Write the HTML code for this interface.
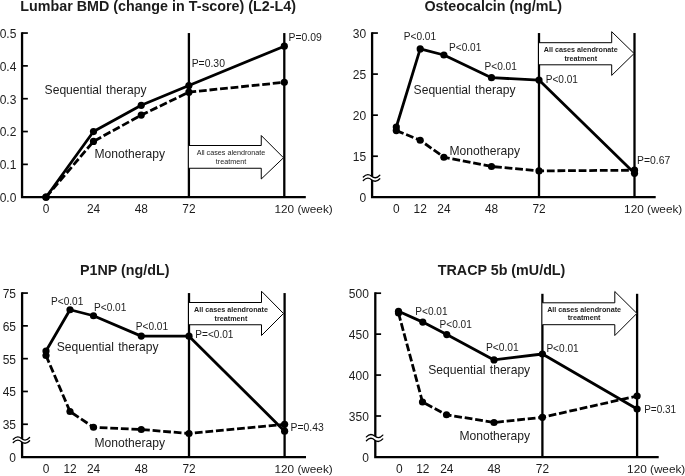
<!DOCTYPE html>
<html><head><meta charset="utf-8"><title>Bone markers</title>
<style>html,body{margin:0;padding:0;background:#fff;width:685px;height:476px;overflow:hidden}svg{display:block;filter:grayscale(1) blur(0.35px)}</style>
</head><body>
<svg width="685" height="476" viewBox="0 0 685 476" font-family='"Liberation Sans", sans-serif'>
<rect width="685" height="476" fill="#fff"/>
<path d="M22.06,32.21 L22.06,197.20 L305.80,197.20" fill="none" stroke="#000" stroke-width="2.3" stroke-linejoin="miter"/>
<line x1="22.06" y1="33.05" x2="27.86" y2="33.05" stroke="#000" stroke-width="1.7" stroke-linecap="butt"/>
<text x="16.30" y="37.90" font-size="12.0" font-weight="normal" text-anchor="end" fill="#1c1c1c" >0.5</text>
<line x1="22.06" y1="65.88" x2="27.86" y2="65.88" stroke="#000" stroke-width="1.7" stroke-linecap="butt"/>
<text x="16.30" y="70.73" font-size="12.0" font-weight="normal" text-anchor="end" fill="#1c1c1c" >0.4</text>
<line x1="22.06" y1="98.71" x2="27.86" y2="98.71" stroke="#000" stroke-width="1.7" stroke-linecap="butt"/>
<text x="16.30" y="103.56" font-size="12.0" font-weight="normal" text-anchor="end" fill="#1c1c1c" >0.3</text>
<line x1="22.06" y1="131.54" x2="27.86" y2="131.54" stroke="#000" stroke-width="1.7" stroke-linecap="butt"/>
<text x="16.30" y="136.39" font-size="12.0" font-weight="normal" text-anchor="end" fill="#1c1c1c" >0.2</text>
<line x1="22.06" y1="164.37" x2="27.86" y2="164.37" stroke="#000" stroke-width="1.7" stroke-linecap="butt"/>
<text x="16.30" y="169.22" font-size="12.0" font-weight="normal" text-anchor="end" fill="#1c1c1c" >0.1</text>
<text x="16.30" y="202.05" font-size="12.0" font-weight="normal" text-anchor="end" fill="#1c1c1c" >0.0</text>
<line x1="188.90" y1="33.06" x2="188.90" y2="197.20" stroke="#000" stroke-width="2.3" stroke-linecap="butt"/>
<line x1="284.30" y1="33.06" x2="284.30" y2="197.20" stroke="#000" stroke-width="2.3" stroke-linecap="butt"/>
<text x="46.00" y="212.70" font-size="11.9" font-weight="normal" text-anchor="middle" fill="#1c1c1c" >0</text>
<text x="93.50" y="212.70" font-size="11.9" font-weight="normal" text-anchor="middle" fill="#1c1c1c" >24</text>
<text x="141.25" y="212.70" font-size="11.9" font-weight="normal" text-anchor="middle" fill="#1c1c1c" >48</text>
<text x="188.90" y="212.70" font-size="11.9" font-weight="normal" text-anchor="middle" fill="#1c1c1c" >72</text>
<text x="274.55" y="212.70" font-size="11.75" font-weight="normal" text-anchor="start" fill="#1c1c1c" >120 (week)</text>
<path d="M188.9,145.5 L261.25,145.5 L261.25,135.5 L283.5,157.75 L261.25,179 L261.25,168.25 L188.9,168.25" fill="#fff" stroke="#000" stroke-width="1" stroke-linejoin="miter"/>
<text x="231.00" y="155.00" font-size="7.2" font-weight="normal" text-anchor="middle" fill="#1c1c1c" >All cases alendronate</text>
<text x="231.00" y="164.00" font-size="7.2" font-weight="normal" text-anchor="middle" fill="#1c1c1c" >treatment</text>
<polyline points="46.00,197.20 93.50,141.39 141.25,115.12 188.90,92.14 284.30,82.29" fill="none" stroke="#000" stroke-width="2.8" stroke-linejoin="round" stroke-dasharray="7.8 2.8" stroke-dashoffset="0"/>
<polyline points="46.00,197.20 93.50,131.54 141.25,105.28 188.90,85.58 284.30,46.18" fill="none" stroke="#000" stroke-width="2.8" stroke-linejoin="round"/>
<circle cx="46.00" cy="197.20" r="3.6" fill="#000"/>
<circle cx="93.50" cy="141.39" r="3.6" fill="#000"/>
<circle cx="141.25" cy="115.12" r="3.6" fill="#000"/>
<circle cx="188.90" cy="92.14" r="3.6" fill="#000"/>
<circle cx="284.30" cy="82.29" r="3.6" fill="#000"/>
<circle cx="46.00" cy="197.20" r="3.6" fill="#000"/>
<circle cx="93.50" cy="131.54" r="3.6" fill="#000"/>
<circle cx="141.25" cy="105.28" r="3.6" fill="#000"/>
<circle cx="188.90" cy="85.58" r="3.6" fill="#000"/>
<circle cx="284.30" cy="46.18" r="3.6" fill="#000"/>
<text x="44.60" y="94.40" font-size="12.1" font-weight="normal" text-anchor="start" fill="#1c1c1c" word-spacing="1">Sequential therapy</text>
<text x="94.50" y="157.75" font-size="12.1" font-weight="normal" text-anchor="start" fill="#1c1c1c" >Monotherapy</text>
<text x="191.70" y="67.10" font-size="10.4" font-weight="normal" text-anchor="start" fill="#1c1c1c" >P=0.30</text>
<text x="288.50" y="41.15" font-size="10.4" font-weight="normal" text-anchor="start" fill="#1c1c1c" >P=0.09</text>
<text x="20.30" y="10.95" font-size="14.3" font-weight="bold" text-anchor="start" fill="#1c1c1c" >Lumbar BMD (change in T-score) (L2-L4)</text>
<path d="M372.10,32.20 L372.10,197.20 L655.70,197.20" fill="none" stroke="#000" stroke-width="2.3" stroke-linejoin="miter"/>
<line x1="372.10" y1="33.05" x2="377.90" y2="33.05" stroke="#000" stroke-width="1.7" stroke-linecap="butt"/>
<text x="366.20" y="37.90" font-size="12.0" font-weight="normal" text-anchor="end" fill="#1c1c1c" >30</text>
<line x1="372.10" y1="74.10" x2="377.90" y2="74.10" stroke="#000" stroke-width="1.7" stroke-linecap="butt"/>
<text x="366.20" y="78.95" font-size="12.0" font-weight="normal" text-anchor="end" fill="#1c1c1c" >25</text>
<line x1="372.10" y1="115.16" x2="377.90" y2="115.16" stroke="#000" stroke-width="1.7" stroke-linecap="butt"/>
<text x="366.20" y="120.01" font-size="12.0" font-weight="normal" text-anchor="end" fill="#1c1c1c" >20</text>
<line x1="372.10" y1="156.22" x2="377.90" y2="156.22" stroke="#000" stroke-width="1.7" stroke-linecap="butt"/>
<text x="366.20" y="161.06" font-size="12.0" font-weight="normal" text-anchor="end" fill="#1c1c1c" >15</text>
<text x="366.20" y="202.05" font-size="12.0" font-weight="normal" text-anchor="end" fill="#1c1c1c" >0</text>
<path d="M363.30,177.00 Q367.43,172.60 371.55,176.20 Q375.68,179.80 379.80,175.20 L379.80,178.70 Q375.68,183.30 371.55,179.70 Q367.43,176.10 363.30,180.50 Z" fill="#fff"/>
<path d="M363.30,177.00 Q367.43,172.60 371.55,176.20 T379.80,175.20" fill="none" stroke="#000" stroke-width="1.3" stroke-linecap="round"/>
<path d="M363.30,180.50 Q367.43,176.10 371.55,179.70 T379.80,178.70" fill="none" stroke="#000" stroke-width="1.3" stroke-linecap="round"/>
<line x1="539.00" y1="33.05" x2="539.00" y2="197.20" stroke="#000" stroke-width="2.3" stroke-linecap="butt"/>
<line x1="634.50" y1="33.05" x2="634.50" y2="197.20" stroke="#000" stroke-width="2.3" stroke-linecap="butt"/>
<text x="396.30" y="212.70" font-size="11.9" font-weight="normal" text-anchor="middle" fill="#1c1c1c" >0</text>
<text x="420.20" y="212.70" font-size="11.9" font-weight="normal" text-anchor="middle" fill="#1c1c1c" >12</text>
<text x="443.90" y="212.70" font-size="11.9" font-weight="normal" text-anchor="middle" fill="#1c1c1c" >24</text>
<text x="491.50" y="212.70" font-size="11.9" font-weight="normal" text-anchor="middle" fill="#1c1c1c" >48</text>
<text x="539.00" y="212.70" font-size="11.9" font-weight="normal" text-anchor="middle" fill="#1c1c1c" >72</text>
<text x="624.10" y="212.70" font-size="11.75" font-weight="normal" text-anchor="start" fill="#1c1c1c" >120 (week)</text>
<path d="M539,42.7 L611.7,42.7 L611.7,31.7 L634.1,53.5 L611.7,75.4 L611.7,64.8 L539,64.8" fill="#fff" stroke="#000" stroke-width="1" stroke-linejoin="miter"/>
<text x="580.80" y="52.00" font-size="7.2" font-weight="bold" text-anchor="middle" fill="#1c1c1c" >All cases alendronate</text>
<text x="580.80" y="60.80" font-size="7.2" font-weight="bold" text-anchor="middle" fill="#1c1c1c" >treatment</text>
<polyline points="396.30,130.60 420.20,140.25 443.90,157.25 491.50,166.50 539.00,170.90 634.50,170.20" fill="none" stroke="#000" stroke-width="2.8" stroke-linejoin="round" stroke-dasharray="7.8 2.8" stroke-dashoffset="0"/>
<polyline points="396.30,127.00 420.20,48.90 443.90,55.00 491.50,77.70 539.00,80.10 634.50,173.30" fill="none" stroke="#000" stroke-width="2.8" stroke-linejoin="round"/>
<circle cx="396.30" cy="130.60" r="3.6" fill="#000"/>
<circle cx="420.20" cy="140.25" r="3.6" fill="#000"/>
<circle cx="443.90" cy="157.25" r="3.6" fill="#000"/>
<circle cx="491.50" cy="166.50" r="3.6" fill="#000"/>
<circle cx="539.00" cy="170.90" r="3.6" fill="#000"/>
<circle cx="634.50" cy="170.20" r="3.6" fill="#000"/>
<circle cx="396.30" cy="127.00" r="3.6" fill="#000"/>
<circle cx="420.20" cy="48.90" r="3.6" fill="#000"/>
<circle cx="443.90" cy="55.00" r="3.6" fill="#000"/>
<circle cx="491.50" cy="77.70" r="3.6" fill="#000"/>
<circle cx="539.00" cy="80.10" r="3.6" fill="#000"/>
<circle cx="634.50" cy="173.30" r="3.6" fill="#000"/>
<text x="403.80" y="40.40" font-size="10.1" font-weight="normal" text-anchor="start" fill="#1c1c1c" >P&lt;0.01</text>
<text x="449.00" y="51.10" font-size="10.1" font-weight="normal" text-anchor="start" fill="#1c1c1c" >P&lt;0.01</text>
<text x="484.50" y="70.35" font-size="10.1" font-weight="normal" text-anchor="start" fill="#1c1c1c" >P&lt;0.01</text>
<text x="545.70" y="83.25" font-size="10.1" font-weight="normal" text-anchor="start" fill="#1c1c1c" >P&lt;0.01</text>
<text x="637.00" y="164.10" font-size="10.4" font-weight="normal" text-anchor="start" fill="#1c1c1c" >P=0.67</text>
<text x="413.60" y="93.50" font-size="12.1" font-weight="normal" text-anchor="start" fill="#1c1c1c" word-spacing="1">Sequential therapy</text>
<text x="449.50" y="155.25" font-size="12.1" font-weight="normal" text-anchor="start" fill="#1c1c1c" >Monotherapy</text>
<text x="424.50" y="10.95" font-size="14.3" font-weight="bold" text-anchor="start" fill="#1c1c1c" >Osteocalcin (ng/mL)</text>
<path d="M22.10,292.22 L22.10,457.10 L306.00,457.10" fill="none" stroke="#000" stroke-width="2.3" stroke-linejoin="miter"/>
<line x1="22.10" y1="293.07" x2="27.90" y2="293.07" stroke="#000" stroke-width="1.7" stroke-linecap="butt"/>
<text x="16.00" y="297.92" font-size="12.0" font-weight="normal" text-anchor="end" fill="#1c1c1c" >75</text>
<line x1="22.10" y1="325.87" x2="27.90" y2="325.87" stroke="#000" stroke-width="1.7" stroke-linecap="butt"/>
<text x="16.00" y="330.72" font-size="12.0" font-weight="normal" text-anchor="end" fill="#1c1c1c" >65</text>
<line x1="22.10" y1="358.66" x2="27.90" y2="358.66" stroke="#000" stroke-width="1.7" stroke-linecap="butt"/>
<text x="16.00" y="363.51" font-size="12.0" font-weight="normal" text-anchor="end" fill="#1c1c1c" >55</text>
<line x1="22.10" y1="391.46" x2="27.90" y2="391.46" stroke="#000" stroke-width="1.7" stroke-linecap="butt"/>
<text x="16.00" y="396.31" font-size="12.0" font-weight="normal" text-anchor="end" fill="#1c1c1c" >45</text>
<line x1="22.10" y1="424.26" x2="27.90" y2="424.26" stroke="#000" stroke-width="1.7" stroke-linecap="butt"/>
<text x="16.00" y="429.11" font-size="12.0" font-weight="normal" text-anchor="end" fill="#1c1c1c" >35</text>
<text x="16.00" y="461.95" font-size="12.0" font-weight="normal" text-anchor="end" fill="#1c1c1c" >0</text>
<path d="M13.25,439.30 Q17.34,434.90 21.43,438.50 Q25.51,442.10 29.60,437.50 L29.60,440.70 Q25.51,445.30 21.43,441.70 Q17.34,438.10 13.25,442.50 Z" fill="#fff"/>
<path d="M13.25,439.30 Q17.34,434.90 21.43,438.50 T29.60,437.50" fill="none" stroke="#000" stroke-width="1.3" stroke-linecap="round"/>
<path d="M13.25,442.50 Q17.34,438.10 21.43,441.70 T29.60,440.70" fill="none" stroke="#000" stroke-width="1.3" stroke-linecap="round"/>
<line x1="189.00" y1="293.07" x2="189.00" y2="457.10" stroke="#000" stroke-width="2.3" stroke-linecap="butt"/>
<line x1="284.60" y1="293.07" x2="284.60" y2="457.10" stroke="#000" stroke-width="2.3" stroke-linecap="butt"/>
<text x="46.00" y="472.60" font-size="11.9" font-weight="normal" text-anchor="middle" fill="#1c1c1c" >0</text>
<text x="70.00" y="472.60" font-size="11.9" font-weight="normal" text-anchor="middle" fill="#1c1c1c" >12</text>
<text x="93.50" y="472.60" font-size="11.9" font-weight="normal" text-anchor="middle" fill="#1c1c1c" >24</text>
<text x="141.25" y="472.60" font-size="11.9" font-weight="normal" text-anchor="middle" fill="#1c1c1c" >48</text>
<text x="189.00" y="472.60" font-size="11.9" font-weight="normal" text-anchor="middle" fill="#1c1c1c" >72</text>
<text x="274.55" y="472.60" font-size="11.75" font-weight="normal" text-anchor="start" fill="#1c1c1c" >120 (week)</text>
<path d="M189.0,302.5 L261.5,302.5 L261.5,291.25 L283.5,313.5 L261.5,335.5 L261.5,324.75 L189.0,324.75" fill="#fff" stroke="#000" stroke-width="1" stroke-linejoin="miter"/>
<text x="231.00" y="312.25" font-size="7.2" font-weight="bold" text-anchor="middle" fill="#1c1c1c" >All cases alendronate</text>
<text x="231.00" y="320.50" font-size="7.2" font-weight="bold" text-anchor="middle" fill="#1c1c1c" >treatment</text>
<polyline points="46.00,355.50 70.00,411.50 93.50,427.25 141.25,429.50 189.00,433.50 284.60,424.30" fill="none" stroke="#000" stroke-width="2.8" stroke-linejoin="round" stroke-dasharray="7.8 2.8" stroke-dashoffset="0"/>
<polyline points="46.00,351.00 70.00,309.75 93.50,315.75 141.25,336.10 189.00,336.20 284.60,431.20" fill="none" stroke="#000" stroke-width="2.8" stroke-linejoin="round"/>
<circle cx="46.00" cy="355.50" r="3.6" fill="#000"/>
<circle cx="70.00" cy="411.50" r="3.6" fill="#000"/>
<circle cx="93.50" cy="427.25" r="3.6" fill="#000"/>
<circle cx="141.25" cy="429.50" r="3.6" fill="#000"/>
<circle cx="189.00" cy="433.50" r="3.6" fill="#000"/>
<circle cx="284.60" cy="424.30" r="3.6" fill="#000"/>
<circle cx="46.00" cy="351.00" r="3.6" fill="#000"/>
<circle cx="70.00" cy="309.75" r="3.6" fill="#000"/>
<circle cx="93.50" cy="315.75" r="3.6" fill="#000"/>
<circle cx="141.25" cy="336.10" r="3.6" fill="#000"/>
<circle cx="189.00" cy="336.20" r="3.6" fill="#000"/>
<circle cx="284.60" cy="431.20" r="3.6" fill="#000"/>
<text x="51.00" y="304.60" font-size="10.1" font-weight="normal" text-anchor="start" fill="#1c1c1c" >P&lt;0.01</text>
<text x="94.00" y="310.85" font-size="10.1" font-weight="normal" text-anchor="start" fill="#1c1c1c" >P&lt;0.01</text>
<text x="135.75" y="329.60" font-size="10.1" font-weight="normal" text-anchor="start" fill="#1c1c1c" >P&lt;0.01</text>
<text x="195.30" y="337.70" font-size="10.1" font-weight="normal" text-anchor="start" fill="#1c1c1c" >P=&lt;0.01</text>
<text x="290.60" y="430.80" font-size="10.4" font-weight="normal" text-anchor="start" fill="#1c1c1c" >P=0.43</text>
<text x="56.70" y="350.50" font-size="12.1" font-weight="normal" text-anchor="start" fill="#1c1c1c" word-spacing="1">Sequential therapy</text>
<text x="94.50" y="446.50" font-size="12.1" font-weight="normal" text-anchor="start" fill="#1c1c1c" >Monotherapy</text>
<text x="80.00" y="274.75" font-size="14.3" font-weight="bold" text-anchor="start" fill="#1c1c1c" >P1NP (ng/dL)</text>
<path d="M375.30,292.35 L375.30,457.10 L658.70,457.10" fill="none" stroke="#000" stroke-width="2.3" stroke-linejoin="miter"/>
<line x1="375.30" y1="293.20" x2="381.10" y2="293.20" stroke="#000" stroke-width="1.7" stroke-linecap="butt"/>
<text x="368.90" y="298.05" font-size="12.0" font-weight="normal" text-anchor="end" fill="#1c1c1c" >500</text>
<line x1="375.30" y1="334.13" x2="381.10" y2="334.13" stroke="#000" stroke-width="1.7" stroke-linecap="butt"/>
<text x="368.90" y="338.99" font-size="12.0" font-weight="normal" text-anchor="end" fill="#1c1c1c" >450</text>
<line x1="375.30" y1="375.07" x2="381.10" y2="375.07" stroke="#000" stroke-width="1.7" stroke-linecap="butt"/>
<text x="368.90" y="379.92" font-size="12.0" font-weight="normal" text-anchor="end" fill="#1c1c1c" >400</text>
<line x1="375.30" y1="416.00" x2="381.10" y2="416.00" stroke="#000" stroke-width="1.7" stroke-linecap="butt"/>
<text x="368.90" y="420.86" font-size="12.0" font-weight="normal" text-anchor="end" fill="#1c1c1c" >350</text>
<text x="368.90" y="461.95" font-size="12.0" font-weight="normal" text-anchor="end" fill="#1c1c1c" >0</text>
<path d="M366.40,436.90 Q370.50,432.50 374.60,436.10 Q378.70,439.70 382.80,435.10 L382.80,438.90 Q378.70,443.50 374.60,439.90 Q370.50,436.30 366.40,440.70 Z" fill="#fff"/>
<path d="M366.40,436.90 Q370.50,432.50 374.60,436.10 T382.80,435.10" fill="none" stroke="#000" stroke-width="1.3" stroke-linecap="round"/>
<path d="M366.40,440.70 Q370.50,436.30 374.60,439.90 T382.80,438.90" fill="none" stroke="#000" stroke-width="1.3" stroke-linecap="round"/>
<line x1="542.40" y1="293.80" x2="542.40" y2="457.10" stroke="#000" stroke-width="2.3" stroke-linecap="butt"/>
<line x1="637.10" y1="293.80" x2="637.10" y2="457.10" stroke="#000" stroke-width="2.3" stroke-linecap="butt"/>
<text x="399.25" y="472.60" font-size="11.9" font-weight="normal" text-anchor="middle" fill="#1c1c1c" >0</text>
<text x="422.75" y="472.60" font-size="11.9" font-weight="normal" text-anchor="middle" fill="#1c1c1c" >12</text>
<text x="446.75" y="472.60" font-size="11.9" font-weight="normal" text-anchor="middle" fill="#1c1c1c" >24</text>
<text x="494.00" y="472.60" font-size="11.9" font-weight="normal" text-anchor="middle" fill="#1c1c1c" >48</text>
<text x="542.40" y="472.60" font-size="11.9" font-weight="normal" text-anchor="middle" fill="#1c1c1c" >72</text>
<text x="627.10" y="472.60" font-size="11.75" font-weight="normal" text-anchor="start" fill="#1c1c1c" >120 (week)</text>
<path d="M542.4,302.8 L614.8,302.8 L614.8,291.5 L636.9,313.4 L614.8,335.5 L614.8,324.7 L542.4,324.7" fill="#fff" stroke="#000" stroke-width="1" stroke-linejoin="miter"/>
<text x="584.10" y="312.10" font-size="7.2" font-weight="bold" text-anchor="middle" fill="#1c1c1c" >All cases alendronate</text>
<text x="584.10" y="320.40" font-size="7.2" font-weight="bold" text-anchor="middle" fill="#1c1c1c" >treatment</text>
<polyline points="398.50,313.00 422.50,402.00 446.50,414.75 494.00,422.50 542.40,417.30 637.10,396.00" fill="none" stroke="#000" stroke-width="2.8" stroke-linejoin="round" stroke-dasharray="7.8 2.8" stroke-dashoffset="0"/>
<polyline points="398.50,311.30 422.75,322.10 446.75,334.60 494.00,359.90 542.40,354.00 637.10,409.00" fill="none" stroke="#000" stroke-width="2.8" stroke-linejoin="round"/>
<circle cx="398.50" cy="313.00" r="3.6" fill="#000"/>
<circle cx="422.50" cy="402.00" r="3.6" fill="#000"/>
<circle cx="446.50" cy="414.75" r="3.6" fill="#000"/>
<circle cx="494.00" cy="422.50" r="3.6" fill="#000"/>
<circle cx="542.40" cy="417.30" r="3.6" fill="#000"/>
<circle cx="637.10" cy="396.00" r="3.6" fill="#000"/>
<circle cx="398.50" cy="311.30" r="3.6" fill="#000"/>
<circle cx="422.75" cy="322.10" r="3.6" fill="#000"/>
<circle cx="446.75" cy="334.60" r="3.6" fill="#000"/>
<circle cx="494.00" cy="359.90" r="3.6" fill="#000"/>
<circle cx="542.40" cy="354.00" r="3.6" fill="#000"/>
<circle cx="637.10" cy="409.00" r="3.6" fill="#000"/>
<text x="415.25" y="315.35" font-size="10.1" font-weight="normal" text-anchor="start" fill="#1c1c1c" >P&lt;0.01</text>
<text x="439.50" y="328.35" font-size="10.1" font-weight="normal" text-anchor="start" fill="#1c1c1c" >P&lt;0.01</text>
<text x="485.90" y="351.35" font-size="10.3" font-weight="normal" text-anchor="start" fill="#1c1c1c" >P&lt;0.01</text>
<text x="546.40" y="351.95" font-size="10.1" font-weight="normal" text-anchor="start" fill="#1c1c1c" >P&lt;0.01</text>
<text x="644.20" y="413.10" font-size="10.0" font-weight="normal" text-anchor="start" fill="#1c1c1c" >P=0.31</text>
<text x="428.30" y="374.00" font-size="12.1" font-weight="normal" text-anchor="start" fill="#1c1c1c" word-spacing="1">Sequential therapy</text>
<text x="459.50" y="439.50" font-size="12.1" font-weight="normal" text-anchor="start" fill="#1c1c1c" >Monotherapy</text>
<text x="437.75" y="274.75" font-size="14.3" font-weight="bold" text-anchor="start" fill="#1c1c1c" >TRACP 5b (mU/dL)</text>
</svg>
</body></html>
